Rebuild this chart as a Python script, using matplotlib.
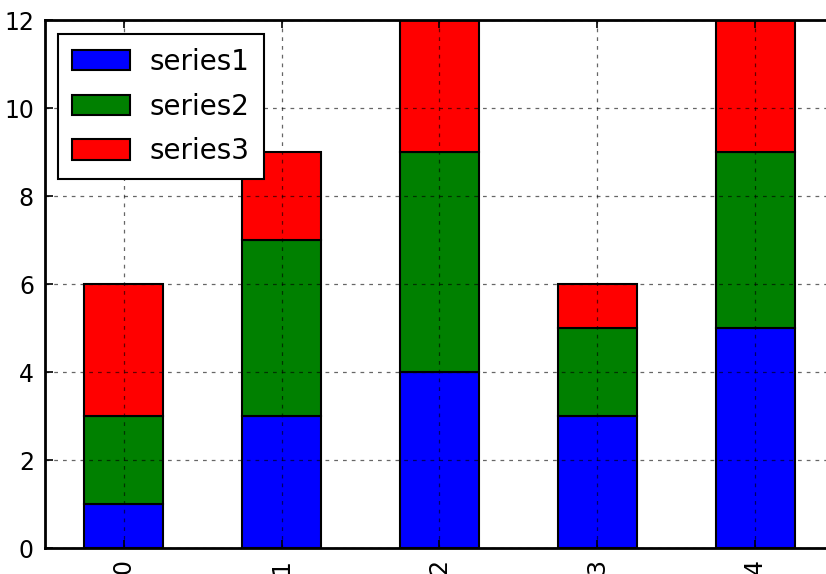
import numpy as np
import matplotlib.pyplot as plt

categories = ['0', '1', '2', '3', '4']
series1 = [1, 3, 4, 3, 5]
series2 = [2, 4, 5, 2, 4]
series3 = [3, 2, 3, 1, 3]

fig = plt.figure(figsize=(8.26, 5.74), dpi=100)
ax = fig.add_axes([45/826, 26/574, 789/826, 528/574])

x = np.arange(len(categories))
w = 0.5
b1 = np.array(series1)
b2 = b1 + np.array(series2)
ax.bar(x, series1, w, color='#0000ff', edgecolor='k', linewidth=1.5, label='series1')
ax.bar(x, series2, w, bottom=b1, color='#008000', edgecolor='k', linewidth=1.5, label='series2')
ax.bar(x, series3, w, bottom=b2, color='#ff0000', edgecolor='k', linewidth=1.5, label='series3')

ax.set_xlim(-0.5, 4.5)
ax.set_ylim(0, 12)
ax.set_xticks(x)
ax.set_xticklabels(categories, rotation=90)
ax.set_yticks(range(0, 13, 2))
ax.tick_params(direction='in', top=True, right=True, length=6, width=1.2,
               labelsize=17, pad=8)
ax.set_axisbelow(False)
ax.grid(True, color='k', linestyle=(0, (3, 4)), linewidth=0.9, alpha=0.6)
for s in ax.spines.values():
    s.set_linewidth(2)

leg = ax.legend(loc='upper left', bbox_to_anchor=(13/789, 1 - 14/528), borderaxespad=0,
                fontsize=20, fancybox=False, framealpha=1, edgecolor='k',
                handlelength=2.1, handleheight=0.75, labelspacing=0.6,
                handletextpad=0.7, borderpad=0.5)
leg.get_frame().set_linewidth(1.5)

fig.savefig('out.png', dpi=100)
